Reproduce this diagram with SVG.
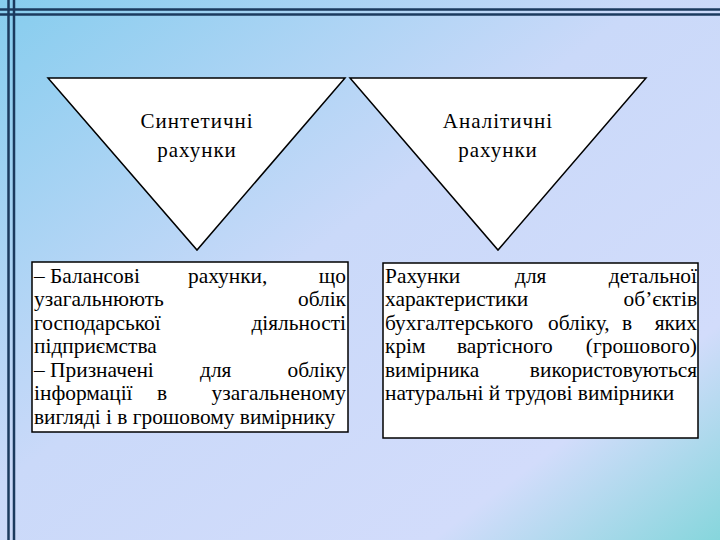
<svg xmlns="http://www.w3.org/2000/svg" width="720" height="540" viewBox="0 0 720 540">
<defs>
<linearGradient id="bg" x1="0" y1="0" x2="1" y2="1">
<stop offset="0" stop-color="#86cdee"/>
<stop offset="0.45" stop-color="#cad9f9"/>
<stop offset="0.8" stop-color="#d2dcfb"/>
<stop offset="1" stop-color="#86d6dc"/>
</linearGradient>
<style>
.frame{stroke:#1b3a5e;stroke-width:2.5;fill:none}
.shape{fill:#ffffff;stroke:#000;stroke-width:1.5}
.title{font-family:"Liberation Serif","Times New Roman",serif;font-size:21px;fill:#000;text-anchor:middle;letter-spacing:1px}
.t{font-family:"Liberation Serif","Times New Roman",serif;font-size:21.4px;fill:#000}
.e{text-anchor:end}
.m{text-anchor:middle}
</style>
</defs>
<rect width="720" height="540" fill="url(#bg)"/>
<g id="frame">
<line class="frame" x1="8.5" y1="0" x2="8.5" y2="540"/>
<line class="frame" x1="14" y1="0" x2="14" y2="540"/>
<line class="frame" x1="0" y1="9.5" x2="720" y2="9.5"/>
<line class="frame" x1="0" y1="14.5" x2="720" y2="14.5"/>
</g>
<g id="tri-synthetic">
<polygon class="shape" points="48,78 345,78 197,250"/>
<text class="title" x="197" y="128">Синтетичні</text>
<text class="title" x="197" y="157">рахунки</text>
</g>
<g id="tri-analytic">
<polygon class="shape" points="350,78 646,78 498,250"/>
<text class="title" x="498" y="128">Аналітичні</text>
<text class="title" x="498" y="157">рахунки</text>
</g>
<g id="box-synthetic">
<rect class="shape" x="32" y="262" width="316" height="170"/>
<text class="t" x="34" y="283">– Балансові</text>
<text class="t" x="188" y="283">рахунки,</text>
<text class="t e" x="346" y="283">що</text>
<text class="t" x="34" y="306">узагальнюють</text>
<text class="t e" x="346" y="306">облік</text>
<text class="t" x="34" y="330">господарської</text>
<text class="t e" x="346" y="330">діяльності</text>
<text class="t" x="34" y="353">підприємства</text>
<text class="t" x="34" y="377">– Призначені</text>
<text class="t" x="200" y="377">для</text>
<text class="t e" x="346" y="377">обліку</text>
<text class="t" x="34" y="400">інформації</text>
<text class="t" x="157" y="400">в</text>
<text class="t e" x="346" y="400">узагальненому</text>
<text class="t" x="34" y="424">вигляді і в грошовому вимірнику</text>
</g>
<g id="box-analytic">
<rect class="shape" x="383" y="263" width="315" height="175"/>
<text class="t" x="385" y="283">Рахунки</text>
<text class="t" x="515" y="283">для</text>
<text class="t e" x="697" y="283">детальної</text>
<text class="t" x="385" y="306">характеристики</text>
<text class="t e" x="697" y="306">об’єктів</text>
<text class="t" x="385" y="330">бухгалтерського</text>
<text class="t" x="548" y="330">обліку,</text>
<text class="t" x="622" y="330">в</text>
<text class="t e" x="697" y="330">яких</text>
<text class="t" x="385" y="353">крім</text>
<text class="t" x="457" y="353">вартісного</text>
<text class="t e" x="697" y="353">(грошового)</text>
<text class="t" x="385" y="377">вимірника</text>
<text class="t e" x="697" y="377">використовуються</text>
<text class="t" x="385" y="400">натуральні й трудові вимірники</text>
</g>
</svg>
